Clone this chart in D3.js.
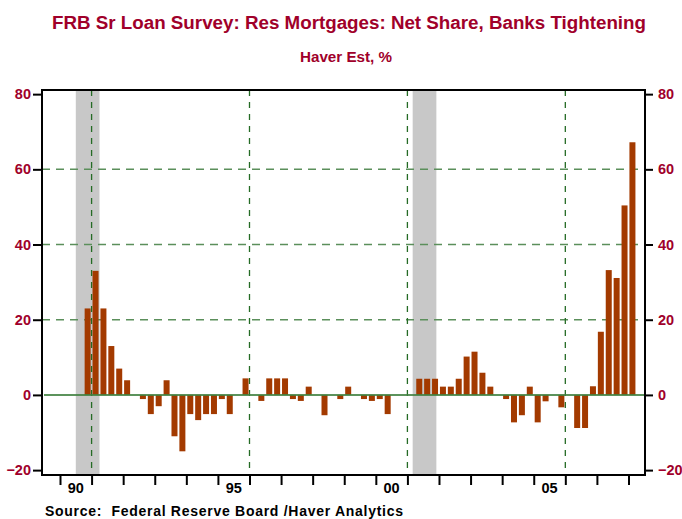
<!DOCTYPE html>
<html>
<head>
<meta charset="utf-8">
<script src="https://cdn.jsdelivr.net/npm/d3@7"></script>
<style>
body { margin: 0; background: #fff; }
text { font-family: "Liberation Sans", Arial, sans-serif; }
</style>
</head>
<body>
<div id="chart"></div>
<script>
// quarterly values, 1990Q4 .. 2008Q1
var startYear = 1990, startQuarter = 4
var values = [23, 33, 23, 13, 7, 3.9, 0, -1.1, -5.1, -3, 3.9, -11, -15, -5.1, -6.7, -5.1, -5.1, -1.1, -5.1, 0,
	4.4, 0, -1.6, 4.4, 4.4, 4.4, -1.1, -1.6, 2.2, 0, -5.4, 0, -1.1, 2.2, 0, -1.1, -1.6, -1.1, -5.1, 0,
	0, 0, 4.3, 4.3, 4.3, 2.2, 2.2, 4.3, 10.2, 11.5, 5.9, 2.2, 0, -1.1, -7.3, -5.4, 2.2, -7.3, -1.7, 0,
	-3.3, 0, -8.8, -8.8, 2.3, 16.8, 33.2, 31.1, 50.4, 67.2]

var yTicks = [-20, 0, 20, 40, 60, 80]
var yGrid = [20, 40, 60]
var yearTicks = d3.range(1990, 2009)
var yearLabels = [{ year: 1990, label: "90" }, { year: 1995, label: "95" }, { year: 2000, label: "00" }, { year: 2005, label: "05" }]
var vGrid = [1991, 1996, 2001, 2006]
// recessions in decimal years (Jul 1990 - Mar 1991, Mar 2001 - Nov 2001)
var recessions = [[1990.5, 1991.25], [2001.167, 2001.917]]

var data = values.map(function(v, i) {
	var q = startQuarter - 1 + i
	return { t: startYear + q / 4 + 0.125, value: v }
})

var W = 682, H = 519
var margin = { top: 90, right: 37, bottom: 44, left: 42 }
var width = W - margin.left - margin.right
var height = H - margin.top - margin.bottom

var red = "#a0002a"

var svg = d3.select("#chart").append("svg")
	.attr("width", W)
	.attr("height", H)

svg.append("text")
	.attr("x", 349).attr("y", 29)
	.attr("text-anchor", "middle")
	.attr("fill", red)
	.style("font-size", "17.5px")
	.style("font-weight", "bold")
	.attr("textLength", 594)
	.attr("lengthAdjust", "spacingAndGlyphs")
	.text("FRB Sr Loan Survey: Res Mortgages: Net Share, Banks Tightening")

svg.append("text")
	.attr("x", 346).attr("y", 62)
	.attr("text-anchor", "middle")
	.attr("fill", red)
	.style("font-size", "14px")
	.style("font-weight", "bold")
	.attr("textLength", 92)
	.attr("lengthAdjust", "spacingAndGlyphs")
	.text("Haver Est, %")

svg.append("text")
	.attr("x", 45).attr("y", 516)
	.attr("fill", "#000")
	.style("font-size", "14px")
	.style("font-weight", "bold")
	.attr("xml:space", "preserve")
	.attr("textLength", 358)
	.attr("lengthAdjust", "spacing")
	.text("Source:  Federal Reserve Board /Haver Analytics")

var g = svg.append("g")
	.attr("transform", "translate(" + margin.left + "," + margin.top + ")")

var x = d3.scaleLinear()
	.domain([1989.43, 2008.523])
	.range([0, width])

var y = d3.scaleLinear()
	.domain([-21.3, 81.1])
	.range([height, 0])

// recession shading
g.selectAll(".rec")
	.data(recessions)
	.enter()
	.append("rect")
	.attr("x", d => x(d[0]))
	.attr("width", d => x(d[1]) - x(d[0]))
	.attr("y", 0)
	.attr("height", height)
	.attr("fill", "#c8c8c8")

// horizontal grid
g.selectAll(".hgrid")
	.data(yGrid)
	.enter()
	.append("line")
	.attr("x1", 0).attr("x2", width)
	.attr("y1", d => y(d)).attr("y2", d => y(d))
	.attr("stroke", "#5b8f5b")
	.attr("stroke-width", 1.5)
	.attr("stroke-dasharray", "8,6")

// vertical grid
g.selectAll(".vgrid")
	.data(vGrid)
	.enter()
	.append("line")
	.attr("x1", d => x(d)).attr("x2", d => x(d))
	.attr("y1", 0).attr("y2", height)
	.attr("stroke", "#256b25")
	.attr("stroke-width", 1.3)
	.attr("stroke-dasharray", "6,6")

// bars
var barW = 6
g.selectAll(".bar")
	.data(data.filter(d => d.value !== 0))
	.enter()
	.append("rect")
	.attr("x", d => x(d.t) - barW / 2)
	.attr("width", barW)
	.attr("y", d => y(Math.max(0, d.value)))
	.attr("height", d => Math.abs(y(d.value) - y(0)))
	.attr("fill", "#a33a00")

// zero line
g.append("line")
	.attr("x1", 2).attr("x2", width)
	.attr("y1", y(0)).attr("y2", y(0))
	.attr("stroke", "#3f8040")
	.attr("stroke-opacity", 0.85)
	.attr("stroke-width", 2)

// frame
g.append("rect")
	.attr("width", width)
	.attr("height", height)
	.attr("fill", "none")
	.attr("stroke", "#000")
	.attr("stroke-width", 2)

// y axes
var yAxisL = d3.axisLeft(y).tickValues(yTicks).tickSize(9).tickFormat(d3.format("d")).tickPadding(2)
var yAxisR = d3.axisRight(y).tickValues(yTicks).tickSize(8).tickFormat(d3.format("d")).tickPadding(5)
var xAxis = d3.axisBottom(x).tickValues(yearTicks).tickSize(10).tickFormat("")

var gl = g.append("g").call(yAxisL)
var gr = g.append("g").attr("transform", "translate(" + width + ",0)").call(yAxisR)
var gx = g.append("g").attr("transform", "translate(0," + height + ")").call(xAxis)

;[gl, gr, gx].forEach(function(a) {
	a.select(".domain").remove()
	a.selectAll(".tick line").attr("stroke", "#000").attr("stroke-width", 2)
	a.selectAll("text")
		.attr("fill", red)
		.style("font-size", "14.5px")
		.style("font-weight", "bold")
		.style("font-family", "'Liberation Sans', Arial, sans-serif")
})

// year labels centred in the year
g.selectAll(".ylab")
	.data(yearLabels)
	.enter()
	.append("text")
	.attr("x", d => x(d.year + 0.5))
	.attr("y", height + 18)
	.attr("text-anchor", "middle")
	.attr("fill", "#000")
	.style("font-size", "14.5px")
	.style("font-weight", "bold")
	.text(d => d.label)
</script>
</body>
</html>
